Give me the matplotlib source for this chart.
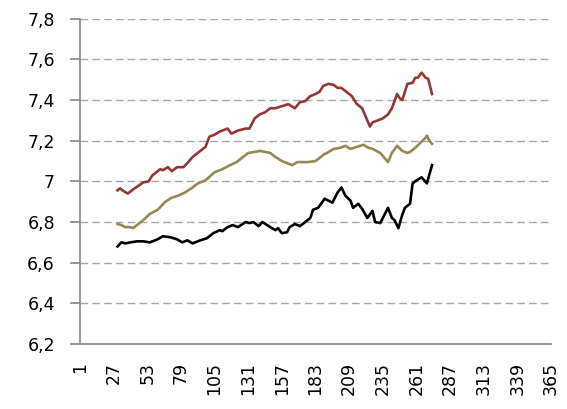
import numpy as np
import matplotlib.pyplot as plt

# Red series (top)
red_day = [30, 32, 34, 38, 43, 50, 54, 57, 63, 65, 69, 72, 76, 81, 84, 88, 94, 98, 101, 105,
           109, 115, 118, 123, 129, 132, 136, 140, 144, 148, 152, 157, 162, 167, 171, 175, 179,
           183, 186, 189, 193, 197, 200, 203, 207, 211, 215, 219, 221, 225, 227, 231, 235, 239,
           242, 246, 248, 250, 254, 258, 260, 262, 265, 268, 270, 273]
red_val = [6.956, 6.966, 6.955, 6.94, 6.965, 6.995, 7.0, 7.03, 7.06, 7.055, 7.07, 7.05, 7.07,
           7.07, 7.09, 7.12, 7.15, 7.17, 7.22, 7.23, 7.245, 7.26, 7.235, 7.25, 7.26, 7.26, 7.31,
           7.33, 7.34, 7.36, 7.36, 7.37, 7.38, 7.36, 7.39, 7.395, 7.42, 7.43, 7.44, 7.47, 7.48,
           7.475, 7.46, 7.46, 7.44, 7.42, 7.38, 7.36, 7.33, 7.27, 7.29, 7.30, 7.31, 7.33, 7.36,
           7.43, 7.41, 7.40, 7.48, 7.485, 7.51, 7.51, 7.535, 7.51, 7.505, 7.43]

# Olive series (middle)
olive_day = [30, 33, 36, 40, 42, 46, 50, 55, 61, 67, 72, 77, 82, 88, 92, 98, 105, 111, 117,
             122, 127, 131, 136, 140, 144, 148, 152, 157, 161, 165, 169, 173, 177, 183, 186,
             190, 192, 197, 202, 206, 210, 215, 220, 224, 227, 233, 237, 239, 242, 246, 250,
             254, 256, 260, 264, 268, 269, 271, 273]
olive_val = [6.79, 6.785, 6.775, 6.775, 6.77, 6.79, 6.81, 6.84, 6.86, 6.90, 6.92, 6.93, 6.945,
             6.97, 6.99, 7.005, 7.045, 7.06, 7.08, 7.095, 7.12, 7.14, 7.145, 7.15, 7.145, 7.14,
             7.12, 7.10, 7.09, 7.08, 7.095, 7.095, 7.095, 7.10, 7.115, 7.135, 7.14, 7.16, 7.165,
             7.175, 7.16, 7.17, 7.18, 7.165, 7.16, 7.14, 7.11, 7.095, 7.14, 7.175, 7.15, 7.14,
             7.145, 7.165, 7.19, 7.215, 7.225, 7.20, 7.185]

# Black series (bottom)
black_day = [30, 33, 36, 40, 45, 50, 55, 61, 65, 71, 76, 80, 84, 88, 94, 99, 104, 109, 111,
             115, 119, 123, 129, 132, 135, 139, 142, 148, 152, 154, 157, 161, 163, 167, 171,
             175, 179, 181, 185, 189, 190, 196, 200, 203, 206, 210, 212, 216, 219, 223, 227,
             229, 233, 235, 239, 242, 244, 247, 250, 252, 256, 258, 261, 265, 269, 273]
black_val = [6.68, 6.70, 6.695, 6.70, 6.705, 6.705, 6.70, 6.715, 6.73, 6.725, 6.715, 6.70,
             6.71, 6.695, 6.71, 6.72, 6.745, 6.76, 6.755, 6.775, 6.785, 6.775, 6.80, 6.795,
             6.80, 6.78, 6.80, 6.775, 6.76, 6.77, 6.745, 6.75, 6.775, 6.79, 6.78, 6.80, 6.82,
             6.86, 6.87, 6.905, 6.915, 6.895, 6.945, 6.97, 6.93, 6.905, 6.87, 6.89, 6.865,
             6.82, 6.855, 6.80, 6.795, 6.82, 6.87, 6.82, 6.81, 6.77, 6.835, 6.87, 6.89, 6.99,
             7.005, 7.02, 6.99, 7.08]

x_ticks = list(range(1, 366, 26))
y_ticks = [6.2, 6.4, 6.6, 6.8, 7.0, 7.2, 7.4, 7.6, 7.8]
y_labels = ['6,2', '6,4', '6,6', '6,8', '7', '7,2', '7,4', '7,6', '7,8']

plt.rcParams['font.family'] = ['DejaVu Sans']

fig = plt.figure(figsize=(5.67, 4.09), dpi=100)
ax = fig.add_axes([0.141, 0.159, 0.831, 0.795])

ax.plot(red_day, red_val, color='#953735', lw=1.9, zorder=3)
ax.plot(olive_day, olive_val, color='#948a54', lw=1.9, zorder=3)
ax.plot(black_day, black_val, color='black', lw=1.9, zorder=3)

ax.set_xlim(1, 365)
ax.set_ylim(6.2, 7.8)
ax.set_xticks(x_ticks)
ax.set_xticklabels([str(t) for t in x_ticks], rotation=90, va='top', ha='center')
ax.set_yticks(y_ticks)
ax.set_yticklabels(y_labels)

ax.yaxis.grid(True, color='#a6a6a6', lw=1.0, linestyle=(0, (5.5, 3)))
ax.set_axisbelow(True)

for s in ['top', 'right']:
    ax.spines[s].set_visible(False)
for s in ['left', 'bottom']:
    ax.spines[s].set_color('#868686')
    ax.spines[s].set_linewidth(1.2)

ax.tick_params(axis='y', length=7, color='#868686', width=1.2, pad=11, labelsize=12.5)
ax.tick_params(axis='x', length=0, pad=13, labelsize=12.5)

fig.savefig('out.png', dpi=100)
